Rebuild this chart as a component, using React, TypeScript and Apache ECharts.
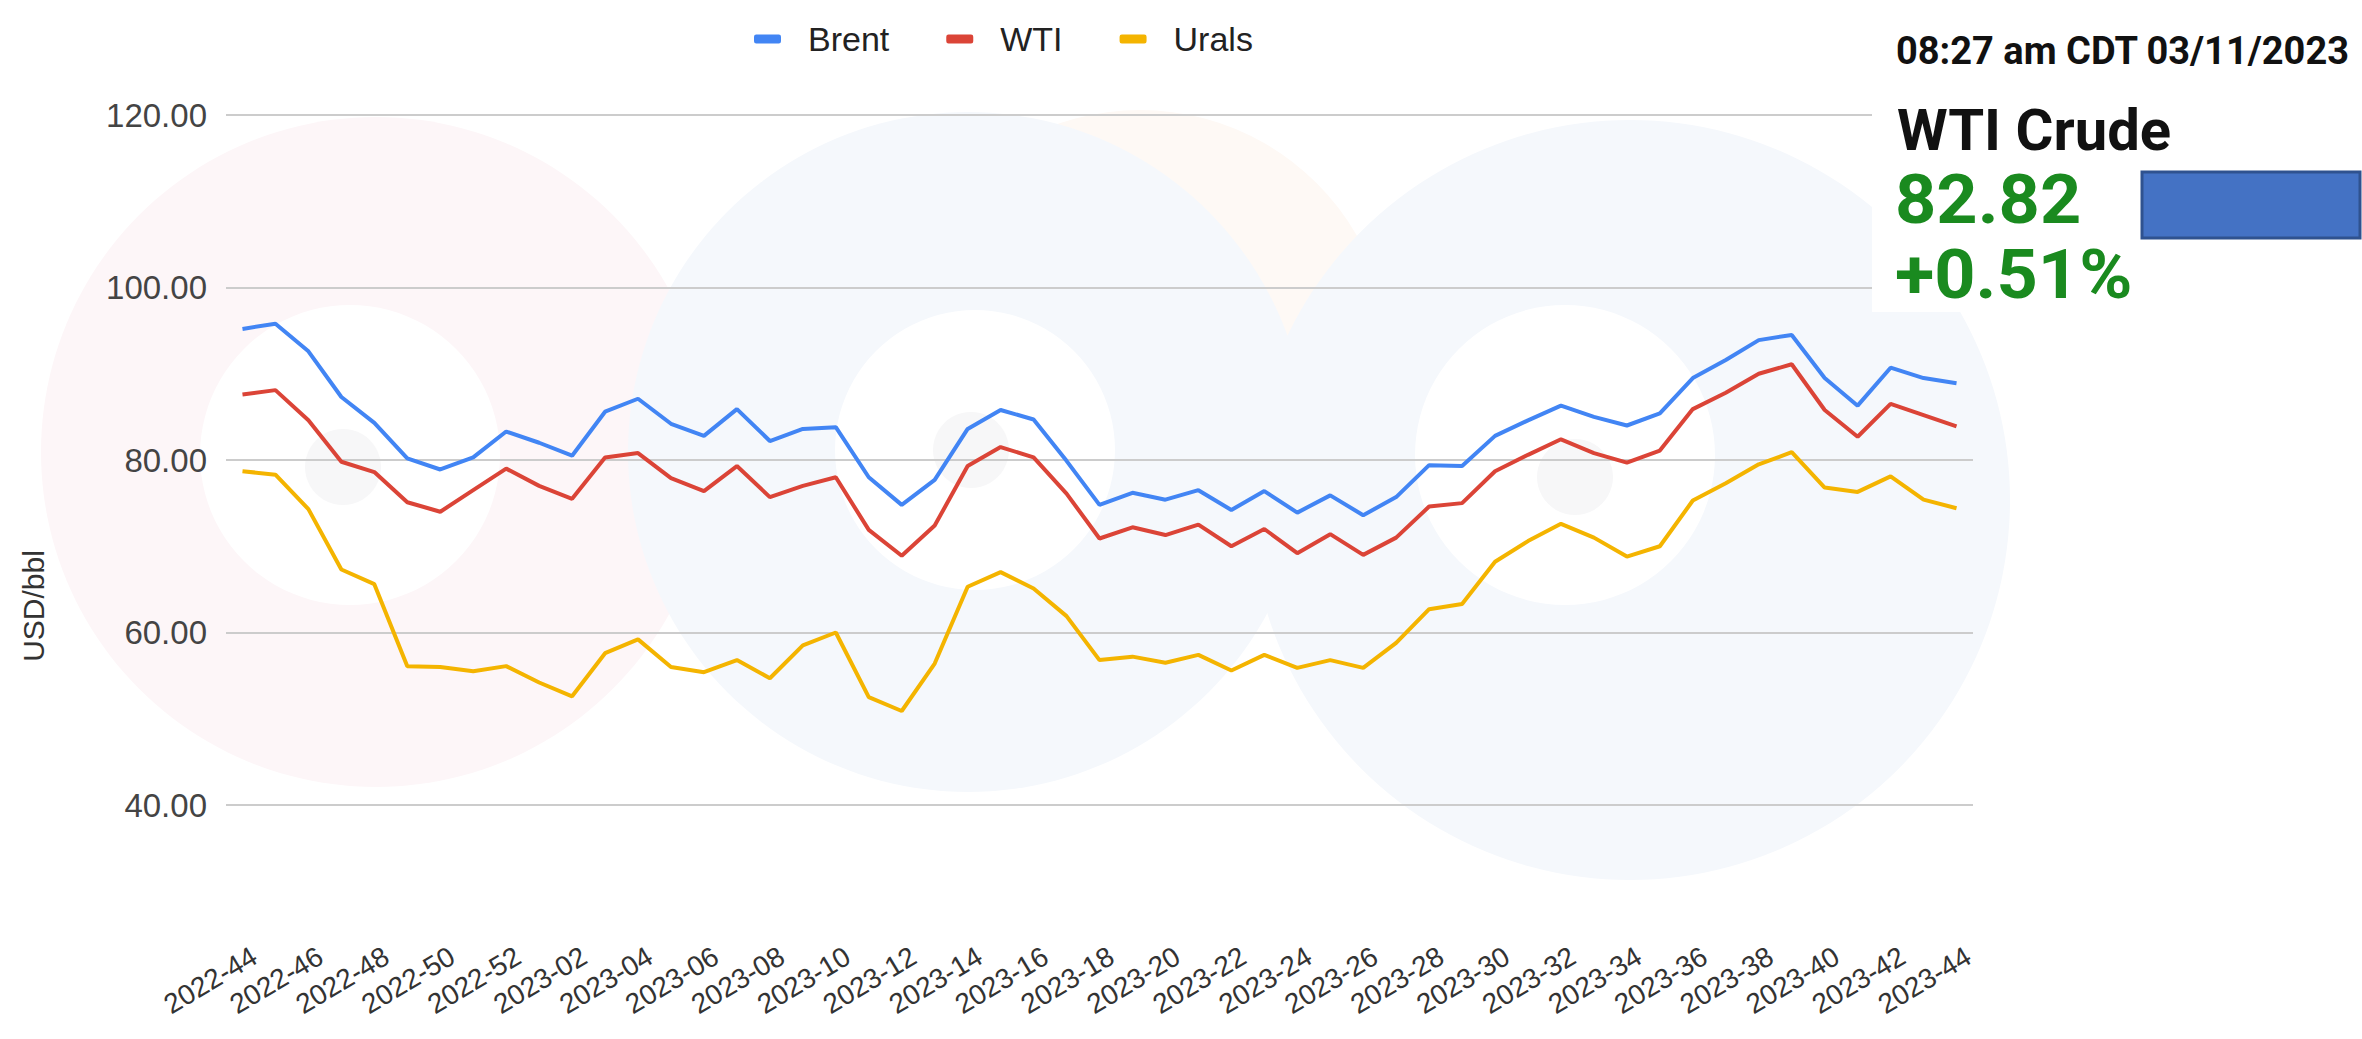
import React, { useEffect, useRef } from "react";
import * as echarts from "echarts";

const weeks = [
  "2022-44", "2022-45", "2022-46", "2022-47", "2022-48", "2022-49", "2022-50", "2022-51", "2022-52",
  "2023-01", "2023-02", "2023-03", "2023-04", "2023-05", "2023-06", "2023-07", "2023-08", "2023-09",
  "2023-10", "2023-11", "2023-12", "2023-13", "2023-14", "2023-15", "2023-16", "2023-17", "2023-18",
  "2023-19", "2023-20", "2023-21", "2023-22", "2023-23", "2023-24", "2023-25", "2023-26", "2023-27",
  "2023-28", "2023-29", "2023-30", "2023-31", "2023-32", "2023-33", "2023-34", "2023-35", "2023-36",
  "2023-37", "2023-38", "2023-39", "2023-40", "2023-41", "2023-42", "2023-43", "2023-44",
];

const brent = [
  95.2, 95.8, 92.6, 87.3, 84.3, 80.2, 78.9, 80.3, 83.3, 82.0, 80.5, 85.6, 87.1, 84.2, 82.8, 85.9, 82.2, 83.6,
  83.8, 78.0, 74.8, 77.7, 83.6, 85.8, 84.7, 79.9, 74.8, 76.2, 75.4, 76.5, 74.2, 76.4, 73.9, 75.9, 73.6, 75.7,
  79.4, 79.3, 82.8, 84.6, 86.3, 85.0, 84.0, 85.4, 89.5, 91.6, 93.9, 94.5, 89.5, 86.3, 90.7, 89.5, 88.9,
];

const wti = [
  87.6, 88.1, 84.6, 79.8, 78.6, 75.1, 74.0, 76.5, 79.0, 77.0, 75.5, 80.3, 80.8, 77.9, 76.4, 79.3, 75.7, 77.0,
  78.0, 71.9, 68.9, 72.4, 79.3, 81.5, 80.3, 76.1, 70.9, 72.2, 71.3, 72.5, 70.0, 72.0, 69.2, 71.4, 69.0, 71.0,
  74.6, 75.0, 78.7, 80.6, 82.4, 80.8, 79.7, 81.1, 85.9, 87.8, 90.0, 91.1, 85.8, 82.7, 86.5, 85.2, 83.9,
];

const urals = [
  78.7, 78.3, 74.3, 67.3, 65.6, 56.1, 56.0, 55.5, 56.1, 54.2, 52.6, 57.6, 59.2, 56.0, 55.4, 56.8, 54.7, 58.5,
  60.0, 52.5, 50.9, 56.4, 65.3, 67.0, 65.1, 61.9, 56.8, 57.2, 56.5, 57.4, 55.6, 57.4, 55.9, 56.8, 55.9, 58.8,
  62.7, 63.3, 68.2, 70.6, 72.6, 71.0, 68.8, 70.0, 75.3, 77.3, 79.5, 80.9, 76.8, 76.3, 78.1, 75.4, 74.4,
];

const seriesNames = ["Brent", "WTI", "Urals"];
const seriesColors = ["#4285F4", "#DB4437", "#F4B400"];
const yTicks = { min: 40, max: 120, interval: 20 };

const quoteTime = "08:27 am CDT 03/11/2023";
const quoteName = "WTI Crude";
const quotePrice = "82.82";
const quoteChange = "+0.51%";

const FONT = 'Arial, "Liberation Sans", sans-serif';
const QFONT = 'Roboto, "Liberation Sans", sans-serif';

export default function App() {
  const ref = useRef<HTMLDivElement>(null);

  useEffect(() => {
    if (!ref.current) return;
    const chart = echarts.init(ref.current, null, { renderer: "svg" });
    const values = [brent, wti, urals];

    const bg = (cx: number, cy: number, r: number, fill: string, z: number) => ({
      type: "circle", shape: { cx, cy, r }, style: { fill }, z, silent: true,
    });

    const watermark: any[] = [
      bg(376, 452, 335, "#fdf6f8", -20),
      bg(1140, 360, 250, "#fef9f5", -19),
      bg(968, 452, 340, "#f5f8fc", -18),
      bg(1630, 500, 380, "#f5f8fc", -18),
      bg(350, 455, 150, "#ffffff", -17),
      bg(975, 450, 140, "#ffffff", -17),
      bg(1565, 455, 150, "#ffffff", -17),
      bg(343, 467, 38, "#f7f7f8", -16),
      bg(971, 450, 38, "#f7f7f8", -16),
      bg(1575, 477, 38, "#f7f7f8", -16),
    ];

    const panel: any[] = [
      { type: "rect", shape: { x: 1872, y: 97, width: 270, height: 215 }, style: { fill: "#ffffff" }, z: 50 },
      {
        type: "text", x: 1896, y: 51, z: 60,
        style: { text: quoteTime, font: `bold 38px ${QFONT}`, fill: "#111111", verticalAlign: "middle", lineHeight: 38 },
      },
      {
        type: "text", x: 1897, y: 130, z: 60,
        style: { text: quoteName, font: `bold 58px ${QFONT}`, fill: "#111111", verticalAlign: "middle", lineHeight: 56 },
      },
      {
        type: "text", x: 1895, y: 200, z: 60, scaleX: 1.06,
        style: { text: quotePrice, font: `bold 68px ${QFONT}`, fill: "#1a8a1f", verticalAlign: "middle", lineHeight: 68 },
      },
      {
        type: "text", x: 1895, y: 275, z: 60, scaleX: 1.06,
        style: { text: quoteChange, font: `bold 68px ${QFONT}`, fill: "#1a8a1f", verticalAlign: "middle", lineHeight: 68 },
      },
      {
        type: "rect", shape: { x: 2142, y: 172, width: 218, height: 66 },
        style: { fill: "#4472C4", stroke: "#2F528F", lineWidth: 3 }, z: 60,
      },
      {
        type: "text", x: 33, y: 606, rotation: Math.PI / 2, z: 60,
        style: { text: "USD/bbl", font: `30px ${FONT}`, fill: "#333333", align: "center", verticalAlign: "middle" },
      },
    ];

    chart.setOption({
      animation: false,
      backgroundColor: "#ffffff",
      textStyle: { fontFamily: FONT },
      legend: {
        top: 17,
        left: 749,
        itemWidth: 27,
        itemHeight: 9,
        itemGap: 57,
        icon: "roundRect",
        textStyle: { fontSize: 34, color: "#222222", padding: [0, 0, 0, 22] },
        data: seriesNames,
      },
      grid: { left: 226, right: 389, top: 115, bottom: 234, containLabel: false },
      xAxis: {
        type: "category",
        data: weeks,
        boundaryGap: true,
        axisLine: { show: false },
        axisTick: { show: false },
        axisLabel: { interval: 1, rotate: 31, margin: 156, fontSize: 28, color: "#333333", padding: [0, -14, 0, 0] },
      },
      yAxis: {
        type: "value",
        min: yTicks.min,
        max: yTicks.max,
        interval: yTicks.interval,
        axisLine: { show: false },
        axisTick: { show: false },
        axisLabel: { fontSize: 33, color: "#444444", margin: 19, formatter: (v: number) => v.toFixed(2) },
        splitLine: { lineStyle: { color: "#cccccc", width: 2 } },
      },
      graphic: [...watermark, ...panel],
      series: seriesNames.map((name, i) => ({
        name,
        type: "line",
        data: values[i],
        symbol: "none",
        color: seriesColors[i],
        lineStyle: { width: 4, color: seriesColors[i] },
      })),
    });

    return () => chart.dispose();
  }, []);

  return (
    <div
      ref={ref}
      style={{ position: "fixed", left: 0, top: 0, width: 2362, height: 1039 }}
    />
  );
}
